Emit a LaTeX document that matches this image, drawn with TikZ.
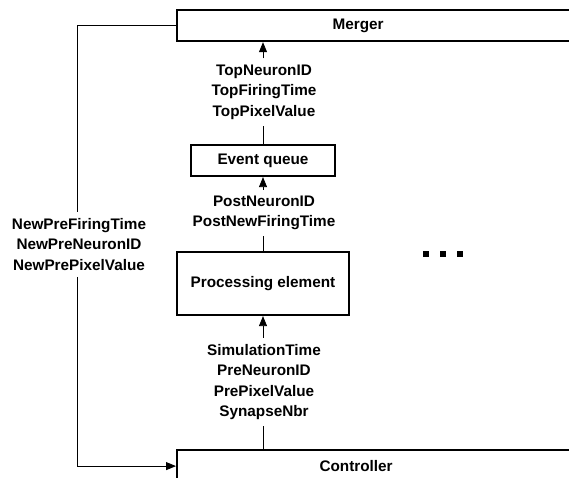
\documentclass[tikz,border=0pt]{standalone}
\usepackage{fontspec}
\setmainfont{Liberation Sans}
\usetikzlibrary{arrows.meta,positioning}
\tikzset{
	block/.style={draw, line width=2.2pt, inner sep=0pt, font=\bfseries\fontsize{15.3}{20.5}\selectfont},
	sig/.style={align=center, inner xsep=0pt, inner ysep=6pt, font=\bfseries\fontsize{15.3}{20.5}\selectfont},
	wire/.style={line width=0.8pt},
	feed/.style={wire, -{Triangle[length=10pt,width=8pt]}}
}

\begin{document}
\begin{tikzpicture}[x=1pt,y=-1pt]
			%%%%% START %%%%%
			\useasboundingbox (0,0) rectangle (569,478);
			
			% big boxes, cut by the page on the right
			\node[block, minimum width=420pt, minimum height=31pt, anchor=north west] (merger) at (176,9) {Merger\hspace*{58pt}};
			\node[block, minimum width=420pt, minimum height=32pt, anchor=north west] (ctrl) at (176,449) {Controller\hspace*{62pt}};
			
			\node[block, minimum width=144pt, minimum height=31pt] (queue) at (263,160.5) {Event queue};
			\node[block, minimum width=172pt, minimum height=63pt] (pe) at (263,283.5) {Processing element};
			
			% signals
			\node[sig] (toplbl) at (264,92) {TopNeuronID\\TopFiringTime\\TopPixelValue};
			\node[sig] (postlbl) at (264,213) {PostNeuronID\\PostNewFiringTime};
			\node[sig] (prelbl) at (264,382) {SimulationTime\\PreNeuronID\\PrePixelValue\\SynapseNbr};
			\node[sig] (newlbl) at (79,244.5) {NewPreFiringTime\\NewPreNeuronID\\NewPrePixelValue};
			
			\draw[wire] (ctrl.north -| pe.south) -- (pe.south |- prelbl.south);
			\draw[feed] (pe.south |- prelbl.north) -- (pe.south);
			\draw[wire] (pe.north) -- (pe.north |- postlbl.south);
			\draw[feed] (queue.south |- postlbl.north) -- (queue.south);
			\draw[wire] (queue.north) -- (queue.north |- toplbl.south);
			\draw[feed] (queue.north |- toplbl.north) -- (merger.south -| queue.north);
			
			\draw[wire] (merger.west) -| ([xshift=-1.5pt]newlbl.north);
			\draw[feed] ([xshift=-1.5pt]newlbl.south) |- (ctrl.west);
			
			% more elements
			\foreach \x in {426,443,460}
				\fill (\x-2.8,251) rectangle (\x+2.8,256.6);
			
			%%%%% END %%%%%
\end{tikzpicture}
\end{document}
